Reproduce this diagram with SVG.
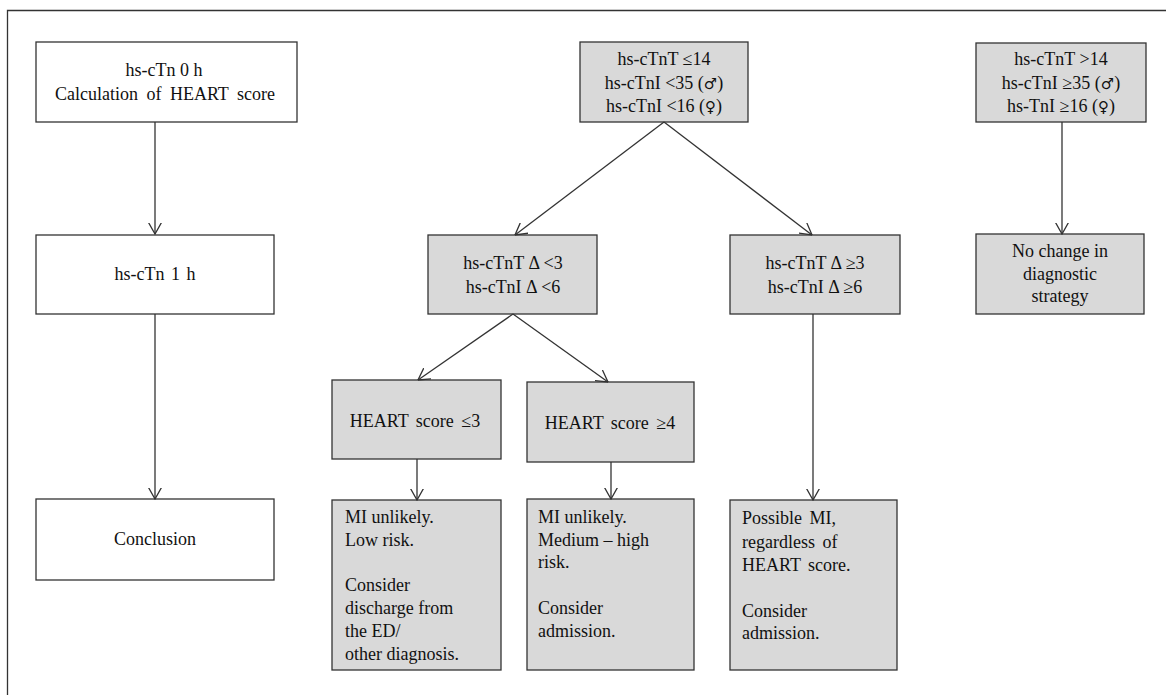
<svg xmlns="http://www.w3.org/2000/svg" width="1166" height="695" viewBox="0 0 1166 695">
<style>
.frame{fill:none;stroke:#333;stroke-width:1.3}
.w{fill:#fff;stroke:#333;stroke-width:1.3}
.g{fill:#d9d9d9;stroke:#333;stroke-width:1.3}
text{font-family:'Liberation Serif','Times New Roman','DejaVu Serif',serif;font-size:18px;fill:#111}
.c{text-anchor:middle}
.sym{font-family:'DejaVu Sans',sans-serif;font-size:15px}
.conn line{stroke:#333;stroke-width:1.3;fill:none;marker-end:url(#ah)}
</style>
<defs>
<marker id="ah" markerUnits="userSpaceOnUse" viewBox="0 0 12 14" refX="11.5" refY="7" markerWidth="12" markerHeight="14" orient="auto">
<path d="M0,0.5 L11.5,7 L0,13.5" fill="none" stroke="#333" stroke-width="1.3"/>
</marker>
</defs>
<rect width="1166" height="695" fill="#fff"/>
<path class="frame" d="M7.5,695 V10.5 H1166"/>

<g id="n-0h">
<rect class="w" x="36" y="42" width="261" height="80"/>
<text class="c" x="164" y="76">hs-cTn 0 h</text>
<text class="c" x="165" y="100" word-spacing="4">Calculation of HEART score</text>
</g>
<g id="n-1h">
<rect class="w" x="36" y="235" width="238" height="79"/>
<text class="c" x="155" y="280" word-spacing="2">hs-cTn 1 h</text>
</g>
<g id="n-conclusion">
<rect class="w" x="36" y="499" width="238" height="81"/>
<text class="c" x="155" y="545">Conclusion</text>
</g>

<g id="n-low">
<rect class="g" x="580" y="42" width="168" height="80"/>
<text class="c" x="664" y="65">hs-cTnT ≤14</text>
<text class="c" x="664" y="89">hs-cTnI &lt;35 (<tspan class="sym">♂</tspan>)</text>
<text class="c" x="664" y="112">hs-cTnI &lt;16 (<tspan class="sym">♀</tspan>)</text>
</g>
<g id="n-high">
<rect class="g" x="976" y="43" width="170" height="79"/>
<text class="c" x="1061" y="65">hs-cTnT &gt;14</text>
<text class="c" x="1061" y="89">hs-cTnI ≥35 (<tspan class="sym">♂</tspan>)</text>
<text class="c" x="1061" y="112">hs-TnI ≥16 (<tspan class="sym">♀</tspan>)</text>
</g>
<g id="n-nochange">
<rect class="g" x="976" y="234" width="168" height="80"/>
<text class="c" x="1060" y="257">No change in</text>
<text class="c" x="1060" y="280">diagnostic</text>
<text class="c" x="1060" y="302">strategy</text>
</g>

<g id="n-dlow">
<rect class="g" x="428" y="235" width="169" height="79"/>
<text class="c" x="513" y="269">hs-cTnT Δ &lt;3</text>
<text class="c" x="513" y="293">hs-cTnI Δ &lt;6</text>
</g>
<g id="n-dhigh">
<rect class="g" x="730" y="235" width="170" height="79"/>
<text class="c" x="815" y="269">hs-cTnT Δ ≥3</text>
<text class="c" x="815" y="293">hs-cTnI Δ ≥6</text>
</g>

<g id="n-h3">
<rect class="g" x="332" y="380" width="169" height="79"/>
<text class="c" x="415" y="427" word-spacing="3">HEART score ≤3</text>
</g>
<g id="n-h4">
<rect class="g" x="527" y="382" width="167" height="80"/>
<text class="c" x="610" y="429" word-spacing="3">HEART score ≥4</text>
</g>

<g id="n-out1">
<rect class="g" x="332" y="500" width="169" height="170"/>
<text x="345" y="523">MI unlikely.</text>
<text x="345" y="546">Low risk.</text>
<text x="345" y="591">Consider</text>
<text x="345" y="614">discharge from</text>
<text x="345" y="637">the ED/</text>
<text x="345" y="660">other diagnosis.</text>
</g>
<g id="n-out2">
<rect class="g" x="527" y="499" width="167" height="171"/>
<text x="538" y="523">MI unlikely.</text>
<text x="538" y="546">Medium – high</text>
<text x="538" y="568">risk.</text>
<text x="538" y="614">Consider</text>
<text x="538" y="637">admission.</text>
</g>
<g id="n-out3">
<rect class="g" x="730" y="500" width="167" height="170"/>
<text x="742" y="524" word-spacing="3">Possible MI,</text>
<text x="742" y="548" word-spacing="3">regardless of</text>
<text x="742" y="571" word-spacing="3">HEART score.</text>
<text x="742" y="617">Consider</text>
<text x="742" y="639">admission.</text>
</g>

<g id="connectors" class="conn">
<line x1="155" y1="122" x2="155" y2="234"/>
<line x1="155" y1="314" x2="155" y2="499"/>
<line x1="664" y1="122" x2="515" y2="235"/>
<line x1="664" y1="122" x2="812" y2="235"/>
<line x1="513" y1="314" x2="418" y2="380"/>
<line x1="513" y1="314" x2="608" y2="382"/>
<line x1="417" y1="459" x2="417" y2="500"/>
<line x1="611" y1="462" x2="611" y2="499"/>
<line x1="813" y1="314" x2="813" y2="500"/>
<line x1="1062" y1="122" x2="1062" y2="234"/>
</g>
</svg>
